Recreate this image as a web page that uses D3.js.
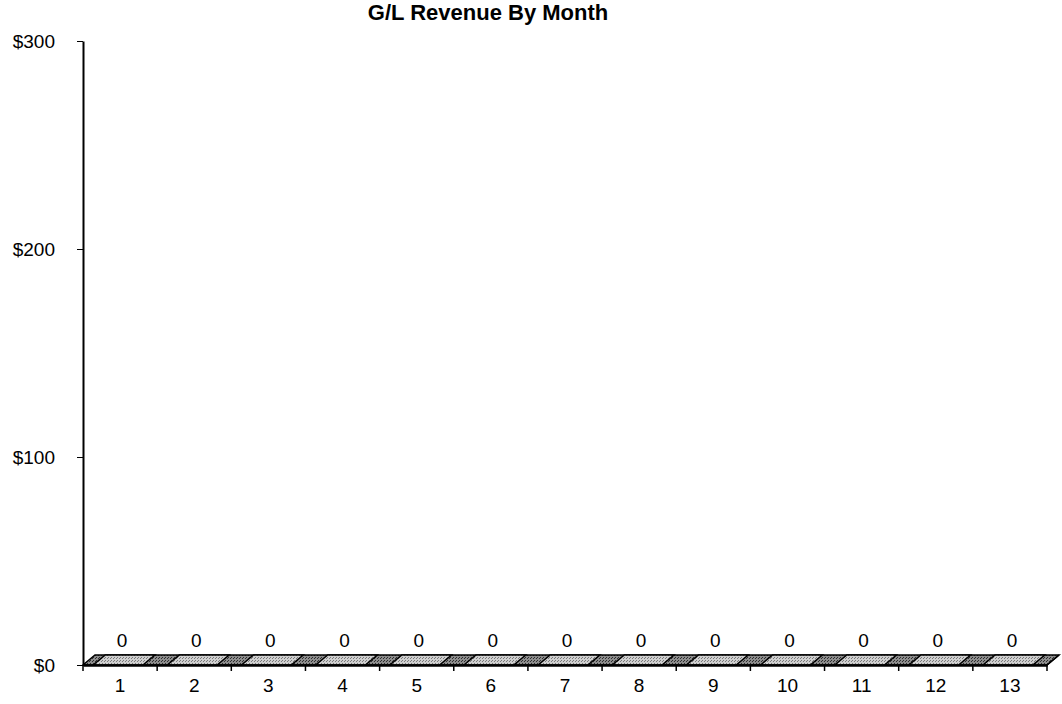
<!DOCTYPE html>
<html>
<head>
<meta charset="utf-8">
<script src="https://cdn.jsdelivr.net/npm/d3@7"></script>
<style>
  body { margin: 0; background: #fff; }
  text { font-family: "Liberation Sans", Arial, sans-serif; }
</style>
</head>
<body>
<div id="chart"></div>
<script>
const width = 1062, height = 704,
  margin = { left: 83, top: 41, bottom: 39, right: 11 };

// data
const months = ['1', '2', '3', '4', '5', '6', '7', '8', '9', '10', '11', '12', '13'];
const revenue = [0, 0, 0, 0, 0, 0, 0, 0, 0, 0, 0, 0, 0];
const yTicks = [0, 100, 200, 300];
const title = 'G/L Revenue By Month';

const depth = { dx: 12, dy: -10 };
const fontSize = 19;

const svg = d3.select('#chart')
  .append('svg')
  .attr('width', width)
  .attr('height', height)

const defs = svg.append('defs')
const makePattern = (id, bg, dot) => {
  const p = defs.append('pattern')
    .attr('id', id)
    .attr('width', 3).attr('height', 3)
    .attr('patternUnits', 'userSpaceOnUse')
  p.append('rect').attr('width', 3).attr('height', 3).attr('fill', bg)
  p.append('rect').attr('x', 0).attr('y', 0).attr('width', 1).attr('height', 1).attr('fill', dot)
  p.append('rect').attr('x', 2).attr('y', 1).attr('width', 1).attr('height', 1).attr('fill', dot)
}
makePattern('light', '#cfcfcf', '#7a7a7a')
makePattern('dark', '#8c8c8c', '#2e2e2e')

const x = d3.scaleBand()
  .domain(months)
  .range([margin.left, width - margin.right - 4])

const y = d3.scaleLinear()
  .domain([0, 300])
  .range([height - margin.bottom, margin.top])

const bw = x.bandwidth() * 0.67;
const y0 = y(0);

// floor
const fx0 = x.range()[0], fx1 = x.range()[1];
svg.append('path')
  .attr('d', `M${fx0},${y0}L${fx1},${y0}L${fx1 + depth.dx},${y0 + depth.dy}L${fx0 + depth.dx},${y0 + depth.dy}Z`)
  .attr('fill', 'url(#dark)')
  .attr('stroke', '#000')
  .attr('stroke-width', 1.5)

// bars (front face + top face)
const bars = svg.append('g')
months.forEach((m, i) => {
  const bx = x(m) + (x.bandwidth() - bw) / 2 - 2;
  const top = y(revenue[i]);
  bars.append('rect')
    .attr('x', bx).attr('y', top)
    .attr('width', bw).attr('height', y0 - top)
    .attr('fill', 'url(#light)')
    .attr('stroke', '#000')
  bars.append('path')
    .attr('d', `M${bx},${top}L${bx + bw},${top}L${bx + bw + depth.dx},${top + depth.dy}L${bx + depth.dx},${top + depth.dy}Z`)
    .attr('fill', 'url(#light)')
    .attr('stroke', '#000')
    .attr('stroke-width', 1.5)
  svg.append('text')
    .attr('x', x(m) + x.bandwidth() / 2 + 2)
    .attr('y', top + depth.dy - 8)
    .attr('text-anchor', 'middle')
    .attr('font-size', fontSize)
    .text(revenue[i])
})

// y axis
const yAxis = svg.append('g')
  .attr('transform', `translate(${margin.left},0)`)
  .call(d3.axisLeft(y).tickValues(yTicks).tickFormat(d => '$' + d).tickSize(6).tickSizeOuter(0).tickPadding(22))
yAxis.select('.domain').attr('stroke-width', 2)
yAxis.selectAll('text').attr('font-size', fontSize).attr('fill', '#000').attr('font-family', '"Liberation Sans", Arial, sans-serif')

// x axis
const xAxis = svg.append('g')
  .attr('transform', `translate(0,${y0})`)
  .call(d3.axisBottom(x).tickSize(0).tickSizeOuter(0).tickPadding(14))
xAxis.select('.domain').attr('stroke-width', 2.5)
xAxis.selectAll('text').attr('font-size', fontSize).attr('fill', '#000').attr('font-family', '"Liberation Sans", Arial, sans-serif')

// category boundary ticks
svg.append('g')
  .selectAll('line')
  .data(months.concat(['end']))
  .join('line')
  .attr('x1', (d, i) => i < months.length ? x(d) : fx1)
  .attr('x2', (d, i) => i < months.length ? x(d) : fx1)
  .attr('y1', y0)
  .attr('y2', y0 + 6)
  .attr('stroke', '#000')
  .attr('stroke-width', 1.5)

// right end edge of floor
svg.append('line')
  .attr('x1', fx1).attr('y1', y0)
  .attr('x2', fx1 + depth.dx).attr('y2', y0 + depth.dy)
  .attr('stroke', '#000').attr('stroke-width', 1.5)

svg.append('text')
  .attr('x', 488)
  .attr('y', 20)
  .attr('text-anchor', 'middle')
  .attr('font-size', 22)
  .attr('font-weight', 'bold')
  .text(title)
</script>
</body>
</html>
